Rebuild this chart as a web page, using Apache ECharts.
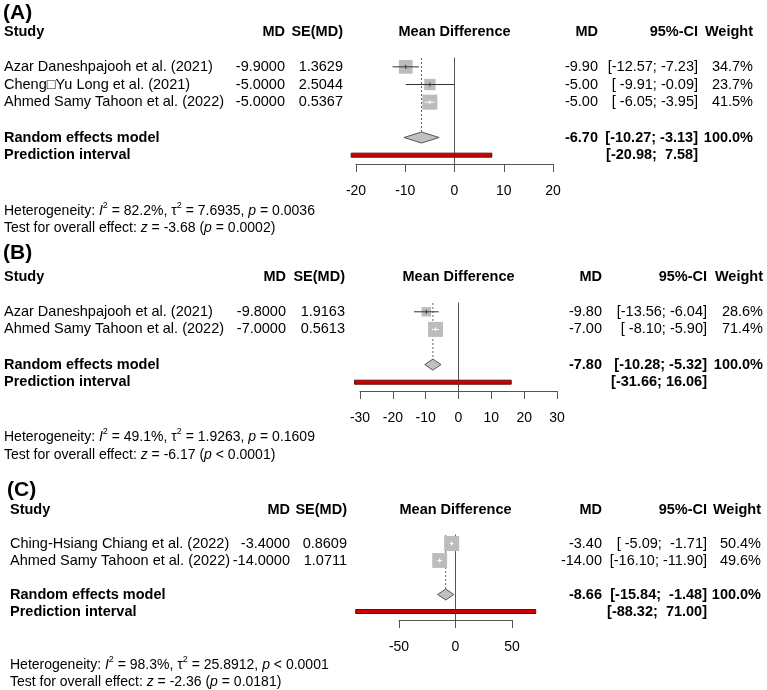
<!DOCTYPE html>
<html>
<head>
<meta charset="utf-8">
<script src="https://cdn.jsdelivr.net/npm/echarts@6/dist/echarts.min.js"></script>
<style>
html,body{margin:0;padding:0;background:#fff;}
#chart{width:767px;height:690px;}
</style>
</head>
<body>
<div id="chart"></div>
<script>
var fontFam = "'Liberation Sans', Arial, Helvetica, sans-serif";

/********************* (A) *********************/
var namesA = ['Azar Daneshpajooh et al. (2021)', 'Cheng\u25a1Yu Long et al. (2021)', 'Ahmed Samy Tahoon et al. (2022)'];
var mdA = [-9.9, -5.0, -5.0];
var seA = [1.3629, 2.5044, 0.5367];
var lowA = [-12.57, -9.91, -6.05];
var upA = [-7.23, -0.09, -3.95];
var wA = [34.7, 23.7, 41.5];
var reA = [-6.70, -10.27, -3.13]; // MD, 下限, 上限
var piA = [-20.98, 7.58];
var ticksA = [-20, -10, 0, 10, 20];
var hetA = ['82.2%', '7.6935', '= 0.0036'];
var testA = ['-3.68', '= 0.0002'];

/********************* (B) *********************/
var namesB = ['Azar Daneshpajooh et al. (2021)', 'Ahmed Samy Tahoon et al. (2022)'];
var mdB = [-9.8, -7.0];
var seB = [1.9163, 0.5613];
var lowB = [-13.56, -8.10];
var upB = [-6.04, -5.90];
var wB = [28.6, 71.4];
var reB = [-7.80, -10.28, -5.32];
var piB = [-31.66, 16.06];
var ticksB = [-30, -20, -10, 0, 10, 20, 30];
var hetB = ['49.1%', '1.9263', '= 0.1609'];
var testB = ['-6.17', '< 0.0001'];

/********************* (C) *********************/
var namesC = ['Ching-Hsiang Chiang et al. (2022)', 'Ahmed Samy Tahoon et al. (2022)'];
var mdC = [-3.4, -14.0];
var seC = [0.8609, 1.0711];
var lowC = [-5.09, -16.10];
var upC = [-1.71, -11.90];
var wC = [50.4, 49.6];
var reC = [-8.66, -15.84, -1.48];
var piC = [-88.32, 71.00];
var ticksC = [-50, 0, 50];
var hetC = ['98.3%', '25.8912', '< 0.0001'];
var testC = ['-2.36', '= 0.0181'];

var panels = [
  {names: namesA, md: mdA, se: seA, low: lowA, up: upA, w: wA, re: reA, pi: piA, ticks: ticksA, het: hetA, test: testA},
  {names: namesB, md: mdB, se: seB, low: lowB, up: upB, w: wB, re: reB, pi: piB, ticks: ticksB, het: hetB, test: testB},
  {names: namesC, md: mdC, se: seC, low: lowC, up: upC, w: wC, re: reC, pi: piC, ticks: ticksC, het: hetC, test: testC}
];

// 版式（像素）
var layout = [
  {label: '(A)', lx: 3, ly: 13, left: 356, right: 553, top: 58, bottom: 164, sx: 4, mdx: 285, sex: 343, md2x: 598, cix: 698, wx: 753},
  {label: '(B)', lx: 3, ly: 253, left: 360, right: 557, top: 303, bottom: 391, sx: 4, mdx: 286, sex: 345, md2x: 602, cix: 707, wx: 763},
  {label: '(C)', lx: 7, ly: 490, left: 399, right: 512, top: 535, bottom: 620, sx: 10, mdx: 290, sex: 347, md2x: 602, cix: 707, wx: 761}
];

var chart = echarts.init(document.getElementById('chart'));

function padL(s, n) { while (s.length < n) s = ' ' + s; return s; }

// 95%-CI 文本，按列宽补空格
function ciStrings(p) {
  var lows = p.low.concat([p.re[1], p.pi[0]]).map(function (v) { return v.toFixed(2); });
  var ups = p.up.concat([p.re[2], p.pi[1]]).map(function (v) { return v.toFixed(2); });
  var nl = Math.max.apply(null, lows.map(function (s) { return s.length; }));
  var nu = Math.max.apply(null, ups.map(function (s) { return s.length; }));
  return lows.map(function (l, i) { return '[' + padL(l, nl) + '; ' + padL(ups[i], nu) + ']'; });
}

function renderStudy(params, api) {
  var y = api.value(1);
  var c = api.coord([api.value(0), y]);
  var l = api.coord([api.value(2), y]);
  var u = api.coord([api.value(3), y]);
  var s = api.value(4);
  var inside = (c[0] - l[0] <= s / 2) && (u[0] - c[0] <= s / 2);
  var col = inside ? '#ffffff' : '#333333';
  var kids = [];
  kids.push({type: 'rect', shape: {x: c[0] - s / 2, y: c[1] - s / 2, width: s, height: s}, style: {fill: '#bcbcbc'}});
  kids.push({type: 'line', shape: {x1: l[0], y1: c[1], x2: u[0], y2: c[1]}, style: {stroke: col, lineWidth: 1}});
  kids.push({type: 'line', shape: {x1: c[0], y1: c[1] - 2, x2: c[0], y2: c[1] + 2}, style: {stroke: col, lineWidth: 1}});
  return {type: 'group', children: kids};
}

function renderDiamond(params, api) {
  var y = api.value(1);
  var c = api.coord([api.value(0), y]);
  var l = api.coord([api.value(2), y]);
  var u = api.coord([api.value(3), y]);
  var h = 5.5;
  return {type: 'polygon', shape: {points: [[l[0], c[1]], [c[0], c[1] - h], [u[0], c[1]], [c[0], c[1] + h]]},
    style: {fill: '#c0c0c0', stroke: '#555555', lineWidth: 1}};
}

function renderPI(params, api) {
  var y = api.value(2);
  var l = api.coord([api.value(0), y]);
  var u = api.coord([api.value(1), y]);
  return {type: 'rect', shape: {x: l[0], y: l[1] - 2, width: u[0] - l[0], height: 4},
    style: {fill: '#d00000', stroke: '#5a1010', lineWidth: 1}};
}

function renderDot(params, api) {
  var a = api.coord([api.value(0), api.value(1)]);
  var b = api.coord([api.value(0), api.value(2)]);
  return {type: 'line', shape: {x1: a[0], y1: a[1], x2: b[0], y2: b[1]},
    style: {stroke: '#666666', lineWidth: 1, lineDash: [2, 2]}};
}

var grids = [], xAxes = [], yAxes = [], series = [];
panels.forEach(function (p, i) {
  var L = layout[i], n = p.names.length;
  var wmax = Math.max.apply(null, p.w);
  grids.push({left: L.left, top: L.top, width: L.right - L.left, height: L.bottom - L.top});
  xAxes.push({
    type: 'value', gridIndex: i, min: p.ticks[0], max: p.ticks[p.ticks.length - 1],
    interval: p.ticks[1] - p.ticks[0], position: 'bottom',
    axisLine: {show: true, onZero: false, lineStyle: {color: '#555', width: 1}},
    axisTick: {show: true, length: 8, lineStyle: {color: '#555'}},
    axisLabel: {color: '#000', fontSize: 14, fontFamily: fontFam, margin: 20},
    splitLine: {show: false}
  });
  yAxes.push({
    type: 'value', gridIndex: i, min: 0.5, max: n + 3.5, inverse: true,
    axisLine: {show: true, onZero: true, lineStyle: {color: '#555', width: 1}},
    axisTick: {show: false}, axisLabel: {show: false}, splitLine: {show: false}
  });
  series.push({
    type: 'custom', xAxisIndex: i, yAxisIndex: i, clip: false, silent: true,
    renderItem: renderDot, data: [[p.re[0], 0.5, n + 2]]
  });
  series.push({
    type: 'custom', xAxisIndex: i, yAxisIndex: i, clip: false, silent: true,
    renderItem: renderStudy,
    data: p.md.map(function (v, k) { return [v, k + 1, p.low[k], p.up[k], 15 * Math.sqrt(p.w[k] / wmax)]; })
  });
  series.push({
    type: 'custom', xAxisIndex: i, yAxisIndex: i, clip: false, silent: true,
    renderItem: renderDiamond, data: [[p.re[0], n + 2, p.re[1], p.re[2]]]
  });
  series.push({
    type: 'custom', xAxisIndex: i, yAxisIndex: i, clip: false, silent: true,
    renderItem: renderPI, data: [[p.pi[0], p.pi[1], n + 3]]
  });
});

chart.setOption({
  animation: false,
  backgroundColor: '#fff',
  grid: grids, xAxis: xAxes, yAxis: yAxes, series: series
});

// 文字表格
function txt(x, y, s, opt) {
  opt = opt || {};
  var st = {
    x: x, y: y, text: s, fill: '#000',
    fontFamily: fontFam, fontSize: opt.size || 14.5, fontWeight: opt.bold ? 'bold' : 'normal',
    align: opt.align || 'left', verticalAlign: 'middle'
  };
  if (opt.rich) { st.rich = opt.rich; st.lineHeight = opt.lineHeight; }
  return {type: 'text', silent: true, style: st};
}
var hetRich = {
  n: {fontSize: 14, fontFamily: fontFam, fill: '#000', lineHeight: 20, verticalAlign: 'middle'},
  it: {fontStyle: 'italic', fontSize: 14, fontFamily: fontFam, fill: '#000', lineHeight: 20, verticalAlign: 'middle'},
  sup: {fontSize: 9, fontFamily: fontFam, fill: '#000', verticalAlign: 'top', lineHeight: 10}
};

var graphics = [];
panels.forEach(function (p, i) {
  var L = layout[i], n = p.names.length;
  var rowY = function (r) { return chart.convertToPixel({gridIndex: i}, [0, r])[1]; };
  var zeroX = (L.left + L.right) / 2;
  var cis = ciStrings(p);
  var yh = rowY(-1);
  graphics.push(txt(L.lx, L.ly, L.label, {bold: true, size: 21}));
  graphics.push(txt(L.sx, yh, 'Study', {bold: true}));
  graphics.push(txt(L.mdx, yh, 'MD', {bold: true, align: 'right'}));
  graphics.push(txt(L.sex, yh, 'SE(MD)', {bold: true, align: 'right'}));
  graphics.push(txt(zeroX, yh, 'Mean Difference', {bold: true, align: 'center'}));
  graphics.push(txt(L.md2x, yh, 'MD', {bold: true, align: 'right'}));
  graphics.push(txt(L.cix, yh, '95%-CI', {bold: true, align: 'right'}));
  graphics.push(txt(L.wx, yh, 'Weight', {bold: true, align: 'right'}));
  p.names.forEach(function (nm, k) {
    var y = rowY(k + 1);
    graphics.push(txt(L.sx, y, nm));
    graphics.push(txt(L.mdx, y, p.md[k].toFixed(4), {align: 'right'}));
    graphics.push(txt(L.sex, y, p.se[k].toFixed(4), {align: 'right'}));
    graphics.push(txt(L.md2x, y, p.md[k].toFixed(2), {align: 'right'}));
    graphics.push(txt(L.cix, y, cis[k], {align: 'right'}));
    graphics.push(txt(L.wx, y, p.w[k].toFixed(1) + '%', {align: 'right'}));
  });
  var yr = rowY(n + 2), yp = rowY(n + 3);
  graphics.push(txt(L.sx, yr, 'Random effects model', {bold: true}));
  graphics.push(txt(L.md2x, yr, p.re[0].toFixed(2), {bold: true, align: 'right'}));
  graphics.push(txt(L.cix, yr, cis[n], {bold: true, align: 'right'}));
  graphics.push(txt(L.wx, yr, '100.0%', {bold: true, align: 'right'}));
  graphics.push(txt(L.sx, yp, 'Prediction interval', {bold: true}));
  graphics.push(txt(L.cix, yp, cis[n + 1], {bold: true, align: 'right'}));
  graphics.push(txt(L.sx, rowY(n + 6) + 2.5,
    '{n|Heterogeneity: }{it|I}{sup|2}{n| = ' + p.het[0] + ', \u03c4}{sup|2}{n| = ' + p.het[1] + ', }{it|p}{n| ' + p.het[2] + '}',
    {size: 14, rich: hetRich, lineHeight: 20}));
  graphics.push(txt(L.sx, rowY(n + 7) + 2.5,
    '{n|Test for overall effect: }{it|z}{n| = ' + p.test[0] + ' (}{it|p}{n| ' + p.test[1] + ')}',
    {size: 14, rich: hetRich, lineHeight: 20}));
});
chart.setOption({graphic: graphics});
</script>
</body>
</html>
